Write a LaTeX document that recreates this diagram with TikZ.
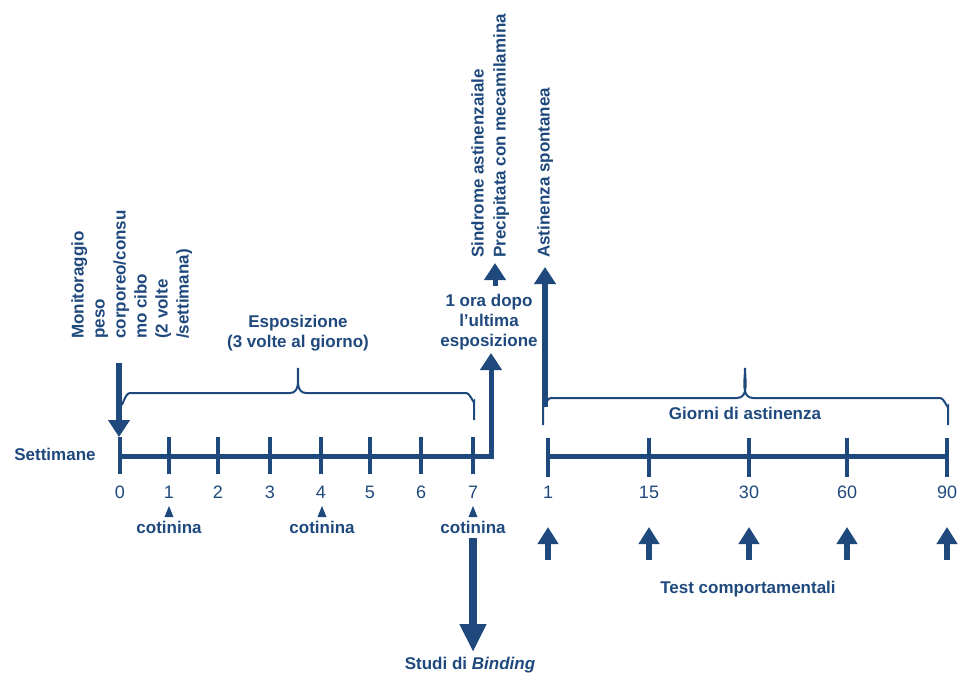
\documentclass[tikz,border=0pt]{standalone}
\usepackage{fontspec}
\setmainfont{Liberation Sans}
\usetikzlibrary{arrows.meta,positioning}
\definecolor{scuro}{RGB}{31,73,125}

\tikzset{
  lab/.style={font=\fontsize{17}{20}\selectfont\bfseries, text=scuro, inner sep=0pt},
  num/.style={font=\fontsize{18}{20}\selectfont, text=scuro, inner sep=0pt},
  asse/.style={draw=scuro, line width=5pt},
  tacca/.style={draw=scuro, line width=4.5pt},
  freccia/.style={draw=scuro, line width=6.5pt, -{Triangle[width=21pt,length=17pt]}},
  freccina/.style={draw=scuro, line width=6pt, -{Triangle[width=20pt,length=17pt]}},
  graffa/.style={draw=scuro, line width=2pt},
}

\begin{document}
\begin{tikzpicture}[x=1pt,y=-1pt]
\useasboundingbox (0,0) rectangle (958,677);

\node[lab] (sett) at (55,454) {Settimane};

\foreach \x [count=\i from 0] in {120,169,218,270,321,370,421,473} {
  \coordinate (s\i) at (\x,456);
  \draw[tacca] (\x,437) -- (\x,474);
  \node[num] (w\i) at (\x,492) {\i};
}
\coordinate (k7) at (491,456);
\draw[asse, line join=miter, -{Triangle[width=21pt,length=17pt]}] (s0) -- (k7) -- (491,353);

\foreach \x/\d in {548/1,649/15,749/30,847/60,947/90} {
  \coordinate (g\d) at (\x,456);
  \draw[tacca] (\x,438) -- (\x,477);
  \node[num] (n\d) at (\x,492) {\d};
  \coordinate (a\d) at (\x,560);
  \draw[freccina] (a\d) -- (\x,527);
}
\draw[asse] (g1) -- (g90);

\foreach \i/\x in {1/169,4/322,7/473} {
  \fill[scuro] (\x,506) -- (\x+4.5,517) -- (\x-4.5,517) -- cycle;
  \node[lab] (c\i) at (\x,527) {cotinina};
}

\node[lab, rotate=90, anchor=north west, align=left,
  font=\fontsize{17}{21}\selectfont\bfseries] (monit) at (71,339)
  {Monitoraggio\\peso\\corporeo/consu\\mo cibo\\(2 volte\\/settimana)};
\coordinate (m0) at (119,363);
\draw[freccia] (m0) -- (119,437);

\node[lab, align=center] (espo) at (298,333) {Esposizione\\(3 volte al giorno)};
\draw[graffa] (122,403) to[out=-90,in=180] (130,393) -- (290,393)
  to[out=0,in=-90] (298,368) to[out=-90,in=180] (306,393) -- (466,393)
  to[out=0,in=-90] (474,401) -- (474,420);

\node[lab, align=center] (ora) at (489,322) {1 ora dopo\\l’ultima\\esposizione};

\node[lab, rotate=90, anchor=north west, align=left,
  font=\fontsize{17}{22}\selectfont\bfseries] (sindr) at (471,258)
  {Sindrome astinenzaiale\\Precipitata con mecamilamina};
\coordinate (p0) at (495,286);
\draw[freccia, line width=5pt] (p0) -- (495,263);

\node[lab, rotate=90, anchor=north west] (spont) at (537,258) {Astinenza spontanea};
\coordinate (q0) at (545,407);
\draw[freccia, line width=6pt] (q0) -- (545,267);

\draw[graffa] (543,425) -- (543,406) to[out=-90,in=180] (551,398) -- (737,398)
  to[out=0,in=-90] (745,368) to[out=-90,in=180] (753,398) -- (940,398)
  to[out=0,in=-90] (948,406) -- (948,425);
\node[lab] (giorni) at (745,413) {Giorni di astinenza};

\node[lab] (test) at (748,589) {Test comportamentali};

\node[lab] (bind) at (470,665) {Studi di \textit{Binding}};
\draw[freccia, line width=8pt, -{Triangle[width=25pt,length=28pt]}]
  (c7.south) ++(0,5) -- (473,652);
\end{tikzpicture}
\end{document}
